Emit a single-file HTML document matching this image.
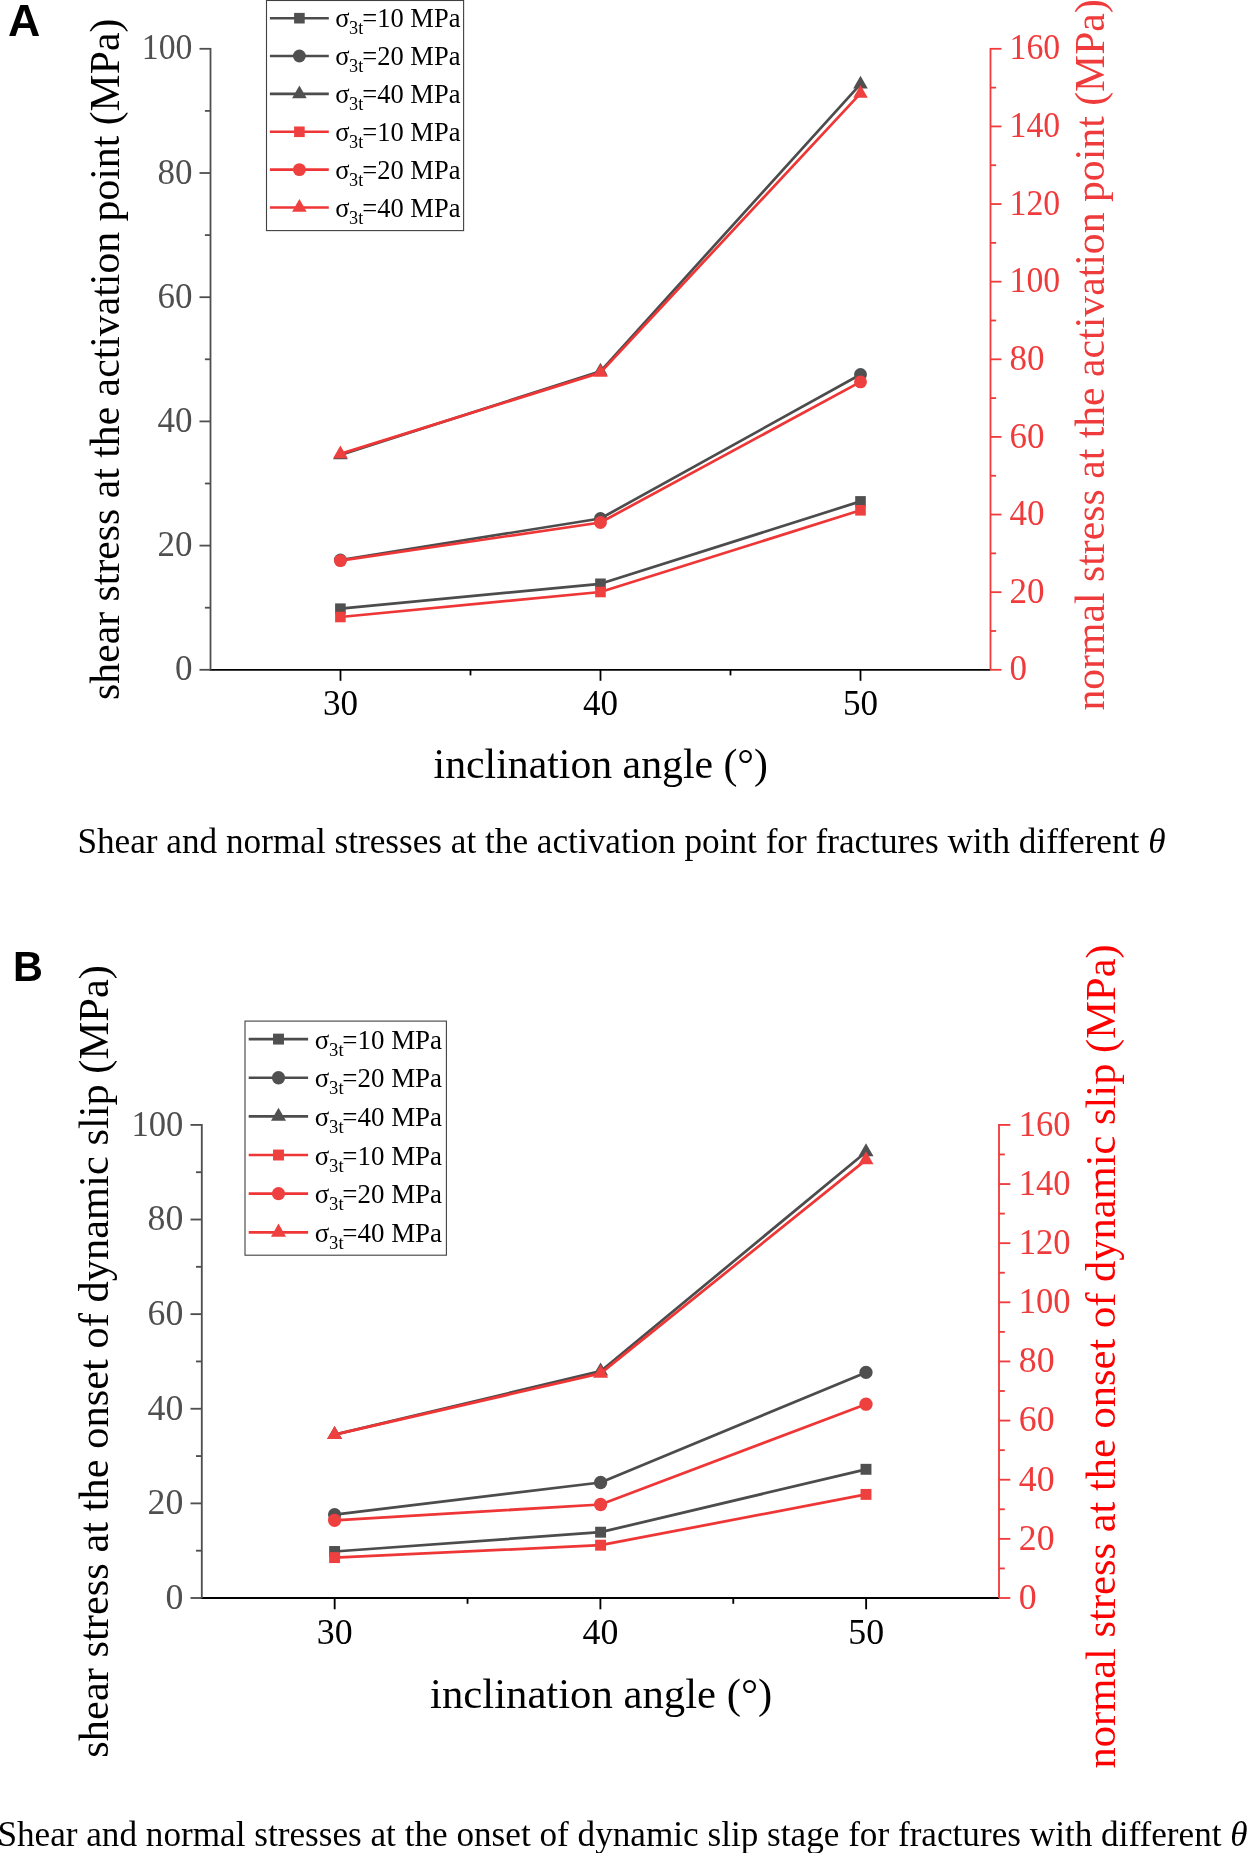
<!DOCTYPE html>
<html><head><meta charset="utf-8"><title>Shear and normal stresses</title>
<style>
html,body{margin:0;padding:0;background:#fff;}
body{width:1249px;height:1853px;overflow:hidden;position:relative;}
svg{position:absolute;left:0;top:0;display:block;will-change:transform;}
</style></head><body>
<svg width="1249" height="1853" viewBox="0 0 1249 1853">
<rect width="1249" height="1853" fill="#fff"/>
<text transform="translate(8.09,35.60) scale(0.9977,1.0000)" fill="#000" style="font-family:'Liberation Sans',sans-serif;font-weight:bold;font-size:44.82px">A</text>
<text transform="translate(13.08,981.07) scale(0.9716,1.0000)" fill="#000" style="font-family:'Liberation Sans',sans-serif;font-weight:bold;font-size:42.61px">B</text>
<line x1="209.60" y1="669.8" x2="990.5" y2="669.8" stroke="#000" stroke-width="1.8"/>
<line x1="340.50" y1="669.8" x2="340.50" y2="680.80" stroke="#000" stroke-width="1.8"/>
<text transform="translate(340.50,714.50)" text-anchor="middle" fill="#000" style="font-family:'Liberation Serif',serif;font-size:35.00px">30</text>
<line x1="470.50" y1="669.8" x2="470.50" y2="675.40" stroke="#000" stroke-width="1.8"/>
<line x1="600.50" y1="669.8" x2="600.50" y2="680.80" stroke="#000" stroke-width="1.8"/>
<text transform="translate(600.50,714.50)" text-anchor="middle" fill="#000" style="font-family:'Liberation Serif',serif;font-size:35.00px">40</text>
<line x1="730.50" y1="669.8" x2="730.50" y2="675.40" stroke="#000" stroke-width="1.8"/>
<line x1="860.50" y1="669.8" x2="860.50" y2="680.80" stroke="#000" stroke-width="1.8"/>
<text transform="translate(860.50,714.50)" text-anchor="middle" fill="#000" style="font-family:'Liberation Serif',serif;font-size:35.00px">50</text>
<line x1="210.5" y1="47.90" x2="210.5" y2="669.8" stroke="#4f4f4f" stroke-width="1.8"/>
<line x1="199.50" y1="669.80" x2="210.5" y2="669.80" stroke="#4f4f4f" stroke-width="1.8"/>
<text transform="translate(192.40,680.40)" text-anchor="end" fill="#4f4f4f" style="font-family:'Liberation Serif',serif;font-size:35.00px">0</text>
<line x1="204.90" y1="607.70" x2="210.5" y2="607.70" stroke="#4f4f4f" stroke-width="1.8"/>
<line x1="199.50" y1="545.60" x2="210.5" y2="545.60" stroke="#4f4f4f" stroke-width="1.8"/>
<text transform="translate(192.40,556.20)" text-anchor="end" fill="#4f4f4f" style="font-family:'Liberation Serif',serif;font-size:35.00px">20</text>
<line x1="204.90" y1="483.50" x2="210.5" y2="483.50" stroke="#4f4f4f" stroke-width="1.8"/>
<line x1="199.50" y1="421.40" x2="210.5" y2="421.40" stroke="#4f4f4f" stroke-width="1.8"/>
<text transform="translate(192.40,432.00)" text-anchor="end" fill="#4f4f4f" style="font-family:'Liberation Serif',serif;font-size:35.00px">40</text>
<line x1="204.90" y1="359.30" x2="210.5" y2="359.30" stroke="#4f4f4f" stroke-width="1.8"/>
<line x1="199.50" y1="297.20" x2="210.5" y2="297.20" stroke="#4f4f4f" stroke-width="1.8"/>
<text transform="translate(192.40,307.80)" text-anchor="end" fill="#4f4f4f" style="font-family:'Liberation Serif',serif;font-size:35.00px">60</text>
<line x1="204.90" y1="235.10" x2="210.5" y2="235.10" stroke="#4f4f4f" stroke-width="1.8"/>
<line x1="199.50" y1="173.00" x2="210.5" y2="173.00" stroke="#4f4f4f" stroke-width="1.8"/>
<text transform="translate(192.40,183.60)" text-anchor="end" fill="#4f4f4f" style="font-family:'Liberation Serif',serif;font-size:35.00px">80</text>
<line x1="204.90" y1="110.90" x2="210.5" y2="110.90" stroke="#4f4f4f" stroke-width="1.8"/>
<line x1="199.50" y1="48.80" x2="210.5" y2="48.80" stroke="#4f4f4f" stroke-width="1.8"/>
<text transform="translate(192.40,59.40) scale(0.9650,1.0000)" text-anchor="end" fill="#4f4f4f" style="font-family:'Liberation Serif',serif;font-size:35.00px">100</text>
<line x1="990.5" y1="47.90" x2="990.5" y2="669.8" stroke="#EF3B3B" stroke-width="1.8"/>
<line x1="990.5" y1="669.80" x2="1001.50" y2="669.80" stroke="#EF3B3B" stroke-width="1.8"/>
<text transform="translate(1009.60,680.40)" fill="#EF3B3B" style="font-family:'Liberation Serif',serif;font-size:35.00px">0</text>
<line x1="990.5" y1="630.99" x2="996.10" y2="630.99" stroke="#EF3B3B" stroke-width="1.8"/>
<line x1="990.5" y1="592.17" x2="1001.50" y2="592.17" stroke="#EF3B3B" stroke-width="1.8"/>
<text transform="translate(1009.60,602.77)" fill="#EF3B3B" style="font-family:'Liberation Serif',serif;font-size:35.00px">20</text>
<line x1="990.5" y1="553.36" x2="996.10" y2="553.36" stroke="#EF3B3B" stroke-width="1.8"/>
<line x1="990.5" y1="514.55" x2="1001.50" y2="514.55" stroke="#EF3B3B" stroke-width="1.8"/>
<text transform="translate(1009.60,525.15)" fill="#EF3B3B" style="font-family:'Liberation Serif',serif;font-size:35.00px">40</text>
<line x1="990.5" y1="475.74" x2="996.10" y2="475.74" stroke="#EF3B3B" stroke-width="1.8"/>
<line x1="990.5" y1="436.92" x2="1001.50" y2="436.92" stroke="#EF3B3B" stroke-width="1.8"/>
<text transform="translate(1009.60,447.52)" fill="#EF3B3B" style="font-family:'Liberation Serif',serif;font-size:35.00px">60</text>
<line x1="990.5" y1="398.11" x2="996.10" y2="398.11" stroke="#EF3B3B" stroke-width="1.8"/>
<line x1="990.5" y1="359.30" x2="1001.50" y2="359.30" stroke="#EF3B3B" stroke-width="1.8"/>
<text transform="translate(1009.60,369.90)" fill="#EF3B3B" style="font-family:'Liberation Serif',serif;font-size:35.00px">80</text>
<line x1="990.5" y1="320.49" x2="996.10" y2="320.49" stroke="#EF3B3B" stroke-width="1.8"/>
<line x1="990.5" y1="281.67" x2="1001.50" y2="281.67" stroke="#EF3B3B" stroke-width="1.8"/>
<text transform="translate(1009.60,292.27) scale(0.9650,1.0000)" fill="#EF3B3B" style="font-family:'Liberation Serif',serif;font-size:35.00px">100</text>
<line x1="990.5" y1="242.86" x2="996.10" y2="242.86" stroke="#EF3B3B" stroke-width="1.8"/>
<line x1="990.5" y1="204.05" x2="1001.50" y2="204.05" stroke="#EF3B3B" stroke-width="1.8"/>
<text transform="translate(1009.60,214.65) scale(0.9650,1.0000)" fill="#EF3B3B" style="font-family:'Liberation Serif',serif;font-size:35.00px">120</text>
<line x1="990.5" y1="165.24" x2="996.10" y2="165.24" stroke="#EF3B3B" stroke-width="1.8"/>
<line x1="990.5" y1="126.42" x2="1001.50" y2="126.42" stroke="#EF3B3B" stroke-width="1.8"/>
<text transform="translate(1009.60,137.02) scale(0.9650,1.0000)" fill="#EF3B3B" style="font-family:'Liberation Serif',serif;font-size:35.00px">140</text>
<line x1="990.5" y1="87.61" x2="996.10" y2="87.61" stroke="#EF3B3B" stroke-width="1.8"/>
<line x1="990.5" y1="48.80" x2="1001.50" y2="48.80" stroke="#EF3B3B" stroke-width="1.8"/>
<text transform="translate(1009.60,59.40) scale(0.9650,1.0000)" fill="#EF3B3B" style="font-family:'Liberation Serif',serif;font-size:35.00px">160</text>
<text transform="translate(433.60,778.40)" fill="#000" style="font-family:'Liberation Serif',serif;font-size:41.75px">inclination angle (°)</text>
<text transform="translate(118.60,699.90) rotate(-90)" fill="#000" style="font-family:'Liberation Serif',serif;font-size:41.72px">shear stress at the activation point (MPa)</text>
<text transform="translate(1104.40,710.60) rotate(-90)" fill="#EF3B3B" style="font-family:'Liberation Serif',serif;font-size:41.72px">normal stress at the activation point (MPa)</text>
<polyline points="340.40,608.70 600.45,583.80 860.50,501.40" fill="none" stroke="#4c4c4c" stroke-width="2.7" stroke-linejoin="round"/>
<rect x="335.10" y="603.40" width="10.60" height="10.60" fill="#505050"/>
<rect x="595.15" y="578.50" width="10.60" height="10.60" fill="#505050"/>
<rect x="855.20" y="496.10" width="10.60" height="10.60" fill="#505050"/>
<polyline points="340.40,560.00 600.45,518.50 860.50,374.50" fill="none" stroke="#4c4c4c" stroke-width="2.7" stroke-linejoin="round"/>
<circle cx="340.40" cy="560.00" r="6.45" fill="#505050"/>
<circle cx="600.45" cy="518.50" r="6.45" fill="#505050"/>
<circle cx="860.50" cy="374.50" r="6.45" fill="#505050"/>
<polyline points="340.40,454.90 600.45,371.30 860.50,84.20" fill="none" stroke="#4c4c4c" stroke-width="2.7" stroke-linejoin="round"/>
<polygon points="340.40,446.43 333.10,459.13 347.70,459.13" fill="#505050"/>
<polygon points="600.45,362.83 593.15,375.53 607.75,375.53" fill="#505050"/>
<polygon points="860.50,75.73 853.20,88.43 867.80,88.43" fill="#505050"/>
<polyline points="340.40,617.00 600.45,592.00 860.50,510.30" fill="none" stroke="#EF3636" stroke-width="2.7" stroke-linejoin="round"/>
<rect x="335.10" y="611.70" width="10.60" height="10.60" fill="#EF4040"/>
<rect x="595.15" y="586.70" width="10.60" height="10.60" fill="#EF4040"/>
<rect x="855.20" y="505.00" width="10.60" height="10.60" fill="#EF4040"/>
<polyline points="340.40,560.60 600.45,522.50 860.50,381.90" fill="none" stroke="#EF3636" stroke-width="2.7" stroke-linejoin="round"/>
<circle cx="340.40" cy="560.60" r="6.45" fill="#EF4040"/>
<circle cx="600.45" cy="522.50" r="6.45" fill="#EF4040"/>
<circle cx="860.50" cy="381.90" r="6.45" fill="#EF4040"/>
<polyline points="340.40,453.90 600.45,372.60 860.50,93.40" fill="none" stroke="#EF3636" stroke-width="2.7" stroke-linejoin="round"/>
<polygon points="340.40,445.43 333.10,458.13 347.70,458.13" fill="#EF4040"/>
<polygon points="600.45,364.13 593.15,376.83 607.75,376.83" fill="#EF4040"/>
<polygon points="860.50,84.93 853.20,97.63 867.80,97.63" fill="#EF4040"/>
<rect x="266.5" y="0.5" width="197.10" height="230.10" fill="#fff" stroke="#404040" stroke-width="1.1"/>
<line x1="269.9" y1="18.20" x2="328.8" y2="18.20" stroke="#4c4c4c" stroke-width="2.6"/>
<rect x="294.10" y="12.90" width="10.60" height="10.60" fill="#505050"/>
<text transform="translate(335.20,27.20)" fill="#000" style="font-family:'Liberation Serif',serif;font-size:26.50px">σ</text>
<text transform="translate(349.10,34.20) scale(0.9700,1.0000)" fill="#000" style="font-family:'Liberation Serif',serif;font-size:18.80px">3t</text>
<text transform="translate(362.30,27.20)" fill="#000" style="font-family:'Liberation Serif',serif;font-size:26.50px">=10 MPa</text>
<line x1="269.9" y1="56.06" x2="328.8" y2="56.06" stroke="#4c4c4c" stroke-width="2.6"/>
<circle cx="299.40" cy="56.06" r="6.45" fill="#505050"/>
<text transform="translate(335.20,65.06)" fill="#000" style="font-family:'Liberation Serif',serif;font-size:26.50px">σ</text>
<text transform="translate(349.10,72.06) scale(0.9700,1.0000)" fill="#000" style="font-family:'Liberation Serif',serif;font-size:18.80px">3t</text>
<text transform="translate(362.30,65.06)" fill="#000" style="font-family:'Liberation Serif',serif;font-size:26.50px">=20 MPa</text>
<line x1="269.9" y1="93.92" x2="328.8" y2="93.92" stroke="#4c4c4c" stroke-width="2.6"/>
<polygon points="299.40,85.45 292.10,98.15 306.70,98.15" fill="#505050"/>
<text transform="translate(335.20,102.92)" fill="#000" style="font-family:'Liberation Serif',serif;font-size:26.50px">σ</text>
<text transform="translate(349.10,109.92) scale(0.9700,1.0000)" fill="#000" style="font-family:'Liberation Serif',serif;font-size:18.80px">3t</text>
<text transform="translate(362.30,102.92)" fill="#000" style="font-family:'Liberation Serif',serif;font-size:26.50px">=40 MPa</text>
<line x1="269.9" y1="131.78" x2="328.8" y2="131.78" stroke="#EF3636" stroke-width="2.6"/>
<rect x="294.10" y="126.48" width="10.60" height="10.60" fill="#EF4040"/>
<text transform="translate(335.20,140.78)" fill="#000" style="font-family:'Liberation Serif',serif;font-size:26.50px">σ</text>
<text transform="translate(349.10,147.78) scale(0.9700,1.0000)" fill="#000" style="font-family:'Liberation Serif',serif;font-size:18.80px">3t</text>
<text transform="translate(362.30,140.78)" fill="#000" style="font-family:'Liberation Serif',serif;font-size:26.50px">=10 MPa</text>
<line x1="269.9" y1="169.64" x2="328.8" y2="169.64" stroke="#EF3636" stroke-width="2.6"/>
<circle cx="299.40" cy="169.64" r="6.45" fill="#EF4040"/>
<text transform="translate(335.20,178.64)" fill="#000" style="font-family:'Liberation Serif',serif;font-size:26.50px">σ</text>
<text transform="translate(349.10,185.64) scale(0.9700,1.0000)" fill="#000" style="font-family:'Liberation Serif',serif;font-size:18.80px">3t</text>
<text transform="translate(362.30,178.64)" fill="#000" style="font-family:'Liberation Serif',serif;font-size:26.50px">=20 MPa</text>
<line x1="269.9" y1="207.50" x2="328.8" y2="207.50" stroke="#EF3636" stroke-width="2.6"/>
<polygon points="299.40,199.03 292.10,211.73 306.70,211.73" fill="#EF4040"/>
<text transform="translate(335.20,216.50)" fill="#000" style="font-family:'Liberation Serif',serif;font-size:26.50px">σ</text>
<text transform="translate(349.10,223.50) scale(0.9700,1.0000)" fill="#000" style="font-family:'Liberation Serif',serif;font-size:18.80px">3t</text>
<text transform="translate(362.30,216.50)" fill="#000" style="font-family:'Liberation Serif',serif;font-size:26.50px">=40 MPa</text>
<line x1="200.88" y1="1598.0" x2="999.0" y2="1598.0" stroke="#000" stroke-width="1.85"/>
<line x1="334.67" y1="1598.0" x2="334.67" y2="1609.30" stroke="#000" stroke-width="1.85"/>
<text transform="translate(334.67,1643.50)" text-anchor="middle" fill="#000" style="font-family:'Liberation Serif',serif;font-size:35.80px">30</text>
<line x1="467.53" y1="1598.0" x2="467.53" y2="1603.80" stroke="#000" stroke-width="1.85"/>
<line x1="600.40" y1="1598.0" x2="600.40" y2="1609.30" stroke="#000" stroke-width="1.85"/>
<text transform="translate(600.40,1643.50)" text-anchor="middle" fill="#000" style="font-family:'Liberation Serif',serif;font-size:35.80px">40</text>
<line x1="733.27" y1="1598.0" x2="733.27" y2="1603.80" stroke="#000" stroke-width="1.85"/>
<line x1="866.13" y1="1598.0" x2="866.13" y2="1609.30" stroke="#000" stroke-width="1.85"/>
<text transform="translate(866.13,1643.50)" text-anchor="middle" fill="#000" style="font-family:'Liberation Serif',serif;font-size:35.80px">50</text>
<line x1="201.8" y1="1123.98" x2="201.8" y2="1598.0" stroke="#4f4f4f" stroke-width="1.85"/>
<line x1="190.50" y1="1598.00" x2="201.8" y2="1598.00" stroke="#4f4f4f" stroke-width="1.85"/>
<text transform="translate(183.30,1608.80)" text-anchor="end" fill="#4f4f4f" style="font-family:'Liberation Serif',serif;font-size:35.80px">0</text>
<line x1="196.00" y1="1550.69" x2="201.8" y2="1550.69" stroke="#4f4f4f" stroke-width="1.85"/>
<line x1="190.50" y1="1503.38" x2="201.8" y2="1503.38" stroke="#4f4f4f" stroke-width="1.85"/>
<text transform="translate(183.30,1514.18)" text-anchor="end" fill="#4f4f4f" style="font-family:'Liberation Serif',serif;font-size:35.80px">20</text>
<line x1="196.00" y1="1456.07" x2="201.8" y2="1456.07" stroke="#4f4f4f" stroke-width="1.85"/>
<line x1="190.50" y1="1408.76" x2="201.8" y2="1408.76" stroke="#4f4f4f" stroke-width="1.85"/>
<text transform="translate(183.30,1419.56)" text-anchor="end" fill="#4f4f4f" style="font-family:'Liberation Serif',serif;font-size:35.80px">40</text>
<line x1="196.00" y1="1361.45" x2="201.8" y2="1361.45" stroke="#4f4f4f" stroke-width="1.85"/>
<line x1="190.50" y1="1314.14" x2="201.8" y2="1314.14" stroke="#4f4f4f" stroke-width="1.85"/>
<text transform="translate(183.30,1324.94)" text-anchor="end" fill="#4f4f4f" style="font-family:'Liberation Serif',serif;font-size:35.80px">60</text>
<line x1="196.00" y1="1266.83" x2="201.8" y2="1266.83" stroke="#4f4f4f" stroke-width="1.85"/>
<line x1="190.50" y1="1219.52" x2="201.8" y2="1219.52" stroke="#4f4f4f" stroke-width="1.85"/>
<text transform="translate(183.30,1230.32)" text-anchor="end" fill="#4f4f4f" style="font-family:'Liberation Serif',serif;font-size:35.80px">80</text>
<line x1="196.00" y1="1172.21" x2="201.8" y2="1172.21" stroke="#4f4f4f" stroke-width="1.85"/>
<line x1="190.50" y1="1124.90" x2="201.8" y2="1124.90" stroke="#4f4f4f" stroke-width="1.85"/>
<text transform="translate(183.30,1135.70) scale(0.9650,1.0000)" text-anchor="end" fill="#4f4f4f" style="font-family:'Liberation Serif',serif;font-size:35.80px">100</text>
<line x1="999.0" y1="1123.98" x2="999.0" y2="1598.0" stroke="#EF3B3B" stroke-width="1.85"/>
<line x1="999.0" y1="1598.00" x2="1010.30" y2="1598.00" stroke="#EF3B3B" stroke-width="1.85"/>
<text transform="translate(1018.80,1608.80)" fill="#EF3B3B" style="font-family:'Liberation Serif',serif;font-size:35.80px">0</text>
<line x1="999.0" y1="1568.43" x2="1004.80" y2="1568.43" stroke="#EF3B3B" stroke-width="1.85"/>
<line x1="999.0" y1="1538.86" x2="1010.30" y2="1538.86" stroke="#EF3B3B" stroke-width="1.85"/>
<text transform="translate(1018.80,1549.66)" fill="#EF3B3B" style="font-family:'Liberation Serif',serif;font-size:35.80px">20</text>
<line x1="999.0" y1="1509.29" x2="1004.80" y2="1509.29" stroke="#EF3B3B" stroke-width="1.85"/>
<line x1="999.0" y1="1479.72" x2="1010.30" y2="1479.72" stroke="#EF3B3B" stroke-width="1.85"/>
<text transform="translate(1018.80,1490.52)" fill="#EF3B3B" style="font-family:'Liberation Serif',serif;font-size:35.80px">40</text>
<line x1="999.0" y1="1450.16" x2="1004.80" y2="1450.16" stroke="#EF3B3B" stroke-width="1.85"/>
<line x1="999.0" y1="1420.59" x2="1010.30" y2="1420.59" stroke="#EF3B3B" stroke-width="1.85"/>
<text transform="translate(1018.80,1431.39)" fill="#EF3B3B" style="font-family:'Liberation Serif',serif;font-size:35.80px">60</text>
<line x1="999.0" y1="1391.02" x2="1004.80" y2="1391.02" stroke="#EF3B3B" stroke-width="1.85"/>
<line x1="999.0" y1="1361.45" x2="1010.30" y2="1361.45" stroke="#EF3B3B" stroke-width="1.85"/>
<text transform="translate(1018.80,1372.25)" fill="#EF3B3B" style="font-family:'Liberation Serif',serif;font-size:35.80px">80</text>
<line x1="999.0" y1="1331.88" x2="1004.80" y2="1331.88" stroke="#EF3B3B" stroke-width="1.85"/>
<line x1="999.0" y1="1302.31" x2="1010.30" y2="1302.31" stroke="#EF3B3B" stroke-width="1.85"/>
<text transform="translate(1018.80,1313.11) scale(0.9650,1.0000)" fill="#EF3B3B" style="font-family:'Liberation Serif',serif;font-size:35.80px">100</text>
<line x1="999.0" y1="1272.74" x2="1004.80" y2="1272.74" stroke="#EF3B3B" stroke-width="1.85"/>
<line x1="999.0" y1="1243.18" x2="1010.30" y2="1243.18" stroke="#EF3B3B" stroke-width="1.85"/>
<text transform="translate(1018.80,1253.98) scale(0.9650,1.0000)" fill="#EF3B3B" style="font-family:'Liberation Serif',serif;font-size:35.80px">120</text>
<line x1="999.0" y1="1213.61" x2="1004.80" y2="1213.61" stroke="#EF3B3B" stroke-width="1.85"/>
<line x1="999.0" y1="1184.04" x2="1010.30" y2="1184.04" stroke="#EF3B3B" stroke-width="1.85"/>
<text transform="translate(1018.80,1194.84) scale(0.9650,1.0000)" fill="#EF3B3B" style="font-family:'Liberation Serif',serif;font-size:35.80px">140</text>
<line x1="999.0" y1="1154.47" x2="1004.80" y2="1154.47" stroke="#EF3B3B" stroke-width="1.85"/>
<line x1="999.0" y1="1124.90" x2="1010.30" y2="1124.90" stroke="#EF3B3B" stroke-width="1.85"/>
<text transform="translate(1018.80,1135.70) scale(0.9650,1.0000)" fill="#EF3B3B" style="font-family:'Liberation Serif',serif;font-size:35.80px">160</text>
<text transform="translate(430.10,1708.40)" fill="#000" style="font-family:'Liberation Serif',serif;font-size:42.72px">inclination angle (°)</text>
<text transform="translate(108.10,1757.70) rotate(-90)" fill="#000" style="font-family:'Liberation Serif',serif;font-size:42.47px">shear stress at the onset of dynamic slip (MPa)</text>
<text transform="translate(1114.80,1768.50) rotate(-90)" fill="#FF0000" style="font-family:'Liberation Serif',serif;font-size:42.53px">normal stress at the onset of dynamic slip (MPa)</text>
<polyline points="334.60,1551.50 600.60,1532.20 866.00,1469.30" fill="none" stroke="#4c4c4c" stroke-width="2.75" stroke-linejoin="round"/>
<rect x="329.14" y="1546.04" width="10.92" height="10.92" fill="#505050"/>
<rect x="595.14" y="1526.74" width="10.92" height="10.92" fill="#505050"/>
<rect x="860.54" y="1463.84" width="10.92" height="10.92" fill="#505050"/>
<polyline points="334.60,1514.60 600.60,1482.50 866.00,1372.40" fill="none" stroke="#4c4c4c" stroke-width="2.75" stroke-linejoin="round"/>
<circle cx="334.60" cy="1514.60" r="6.64" fill="#505050"/>
<circle cx="600.60" cy="1482.50" r="6.64" fill="#505050"/>
<circle cx="866.00" cy="1372.40" r="6.64" fill="#505050"/>
<polyline points="334.60,1434.60 600.60,1371.20 866.00,1152.00" fill="none" stroke="#4c4c4c" stroke-width="2.75" stroke-linejoin="round"/>
<polygon points="334.60,1425.88 327.08,1438.96 342.12,1438.96" fill="#505050"/>
<polygon points="600.60,1362.48 593.08,1375.56 608.12,1375.56" fill="#505050"/>
<polygon points="866.00,1143.28 858.48,1156.36 873.52,1156.36" fill="#505050"/>
<polyline points="334.60,1557.60 600.60,1545.20 866.00,1494.40" fill="none" stroke="#EF3636" stroke-width="2.75" stroke-linejoin="round"/>
<rect x="329.14" y="1552.14" width="10.92" height="10.92" fill="#EF4040"/>
<rect x="595.14" y="1539.74" width="10.92" height="10.92" fill="#EF4040"/>
<rect x="860.54" y="1488.94" width="10.92" height="10.92" fill="#EF4040"/>
<polyline points="334.60,1520.30 600.60,1504.50 866.00,1404.20" fill="none" stroke="#EF3636" stroke-width="2.75" stroke-linejoin="round"/>
<circle cx="334.60" cy="1520.30" r="6.64" fill="#EF4040"/>
<circle cx="600.60" cy="1504.50" r="6.64" fill="#EF4040"/>
<circle cx="866.00" cy="1404.20" r="6.64" fill="#EF4040"/>
<polyline points="334.60,1434.60 600.60,1373.40 866.00,1159.90" fill="none" stroke="#EF3636" stroke-width="2.75" stroke-linejoin="round"/>
<polygon points="334.60,1425.88 327.08,1438.96 342.12,1438.96" fill="#EF4040"/>
<polygon points="600.60,1364.68 593.08,1377.76 608.12,1377.76" fill="#EF4040"/>
<polygon points="866.00,1151.18 858.48,1164.26 873.52,1164.26" fill="#EF4040"/>
<rect x="245.0" y="1021.1" width="201.40" height="234.10" fill="#fff" stroke="#404040" stroke-width="1.1"/>
<line x1="248.7" y1="1039.10" x2="308.1" y2="1039.10" stroke="#4c4c4c" stroke-width="2.65"/>
<rect x="273.04" y="1033.64" width="10.92" height="10.92" fill="#505050"/>
<text transform="translate(314.80,1048.60)" fill="#000" style="font-family:'Liberation Serif',serif;font-size:26.95px">σ</text>
<text transform="translate(329.10,1055.60) scale(0.9700,1.0000)" fill="#000" style="font-family:'Liberation Serif',serif;font-size:19.20px">3t</text>
<text transform="translate(342.30,1048.60)" fill="#000" style="font-family:'Liberation Serif',serif;font-size:26.95px">=10 MPa</text>
<line x1="248.7" y1="1077.74" x2="308.1" y2="1077.74" stroke="#4c4c4c" stroke-width="2.65"/>
<circle cx="278.50" cy="1077.74" r="6.64" fill="#505050"/>
<text transform="translate(314.80,1087.24)" fill="#000" style="font-family:'Liberation Serif',serif;font-size:26.95px">σ</text>
<text transform="translate(329.10,1094.24) scale(0.9700,1.0000)" fill="#000" style="font-family:'Liberation Serif',serif;font-size:19.20px">3t</text>
<text transform="translate(342.30,1087.24)" fill="#000" style="font-family:'Liberation Serif',serif;font-size:26.95px">=20 MPa</text>
<line x1="248.7" y1="1116.38" x2="308.1" y2="1116.38" stroke="#4c4c4c" stroke-width="2.65"/>
<polygon points="278.50,1107.66 270.98,1120.74 286.02,1120.74" fill="#505050"/>
<text transform="translate(314.80,1125.88)" fill="#000" style="font-family:'Liberation Serif',serif;font-size:26.95px">σ</text>
<text transform="translate(329.10,1132.88) scale(0.9700,1.0000)" fill="#000" style="font-family:'Liberation Serif',serif;font-size:19.20px">3t</text>
<text transform="translate(342.30,1125.88)" fill="#000" style="font-family:'Liberation Serif',serif;font-size:26.95px">=40 MPa</text>
<line x1="248.7" y1="1155.02" x2="308.1" y2="1155.02" stroke="#EF3636" stroke-width="2.65"/>
<rect x="273.04" y="1149.56" width="10.92" height="10.92" fill="#EF4040"/>
<text transform="translate(314.80,1164.52)" fill="#000" style="font-family:'Liberation Serif',serif;font-size:26.95px">σ</text>
<text transform="translate(329.10,1171.52) scale(0.9700,1.0000)" fill="#000" style="font-family:'Liberation Serif',serif;font-size:19.20px">3t</text>
<text transform="translate(342.30,1164.52)" fill="#000" style="font-family:'Liberation Serif',serif;font-size:26.95px">=10 MPa</text>
<line x1="248.7" y1="1193.66" x2="308.1" y2="1193.66" stroke="#EF3636" stroke-width="2.65"/>
<circle cx="278.50" cy="1193.66" r="6.64" fill="#EF4040"/>
<text transform="translate(314.80,1203.16)" fill="#000" style="font-family:'Liberation Serif',serif;font-size:26.95px">σ</text>
<text transform="translate(329.10,1210.16) scale(0.9700,1.0000)" fill="#000" style="font-family:'Liberation Serif',serif;font-size:19.20px">3t</text>
<text transform="translate(342.30,1203.16)" fill="#000" style="font-family:'Liberation Serif',serif;font-size:26.95px">=20 MPa</text>
<line x1="248.7" y1="1232.30" x2="308.1" y2="1232.30" stroke="#EF3636" stroke-width="2.65"/>
<polygon points="278.50,1223.58 270.98,1236.66 286.02,1236.66" fill="#EF4040"/>
<text transform="translate(314.80,1241.80)" fill="#000" style="font-family:'Liberation Serif',serif;font-size:26.95px">σ</text>
<text transform="translate(329.10,1248.80) scale(0.9700,1.0000)" fill="#000" style="font-family:'Liberation Serif',serif;font-size:19.20px">3t</text>
<text transform="translate(342.30,1241.80)" fill="#000" style="font-family:'Liberation Serif',serif;font-size:26.95px">=40 MPa</text>
<text transform="translate(77.4,852.6)" fill="#000" style="font-family:'Liberation Serif',serif;font-size:35.21px">Shear and normal stresses at the activation point for fractures with different <tspan style="font-style:italic">θ</tspan></text>
<text transform="translate(-2.62,1845.5)" fill="#000" style="font-family:'Liberation Serif',serif;font-size:35.19px">Shear and normal stresses at the onset of dynamic slip stage for fractures with different <tspan style="font-style:italic">θ</tspan></text>
</svg>
</body></html>
